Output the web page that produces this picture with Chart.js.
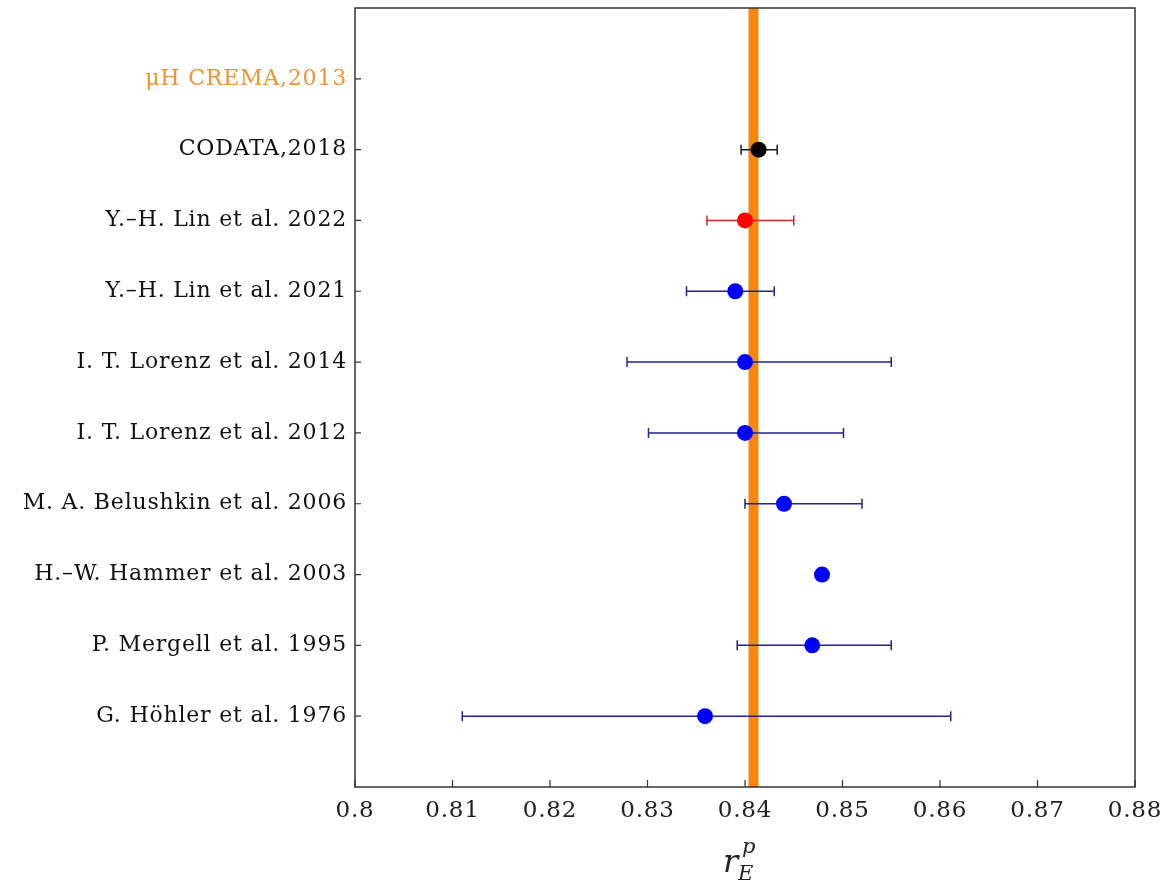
<!DOCTYPE html>
<html>
<head>
<meta charset="utf-8">
<script src="https://cdn.jsdelivr.net/npm/chart.js@4/dist/chart.umd.min.js"></script>
<style>
html,body{margin:0;padding:0;background:#fff;}
#wrap{width:1164px;height:882px;position:relative;}
</style>
</head>
<body>
<div id="wrap"><canvas id="c"></canvas></div>
<script>
// ---- data ----
const rowLabels = ['μH CREMA,2013','CODATA,2018','Y.–H. Lin et al. 2022','Y.–H. Lin et al. 2021','I. T. Lorenz et al. 2014','I. T. Lorenz et al. 2012','M. A. Belushkin et al. 2006','H.–W. Hammer et al. 2003','P. Mergell et al. 1995','G. Höhler et al. 1976'];
const cremaValue = 0.84087;
const centralValues = [0.8414, 0.8400, 0.8390, 0.8400, 0.8400, 0.8440, 0.8479, 0.8469, 0.8359];
const lowValues     = [0.8396, 0.8361, 0.8340, 0.8279, 0.8301, 0.8400, null,   0.8392, 0.8110];
const highValues    = [0.8433, 0.8450, 0.8430, 0.8550, 0.8501, 0.8520, null,   0.8550, 0.8611];
const pointColors   = ['#000000','#ff0000','#0000ff','#0000ff','#0000ff','#0000ff','#0000ff','#0000ff','#0000ff'];
const barColors     = ['#1a1a1a','#c8282a','#23238f','#23238f','#23238f','#23238f','#23238f','#23238f','#23238f'];
const xTicks = [0.80,0.81,0.82,0.83,0.84,0.85,0.86,0.87,0.88];

const nRows = rowLabels.length; // 10
// row i (0 = top) sits at y = nRows - i
const points = centralValues.map((v,i)=>({x:v, y: nRows - (i+1)}));

const SERIF = '"DejaVu Serif", "Liberation Serif", serif';
const ORANGE = '#f7870c';
const AXIS = '#333333';

const decor = {
  id:'decor',
  beforeLayout(chart){ chart.ctx.letterSpacing = '0.8px'; },
  beforeDraw(chart){ chart.ctx.letterSpacing = '0.8px'; },
  beforeDatasetsDraw(chart){
    const ctx = chart.ctx, xs = chart.scales.x, ys = chart.scales.y, a = chart.chartArea;
    ctx.save();
    // CREMA band
    const bx = xs.getPixelForValue(cremaValue);
    ctx.strokeStyle = ORANGE; ctx.lineWidth = 10;
    ctx.beginPath(); ctx.moveTo(bx, a.top); ctx.lineTo(bx, a.bottom); ctx.stroke();
    // error bars
    ctx.lineWidth = 1.5;
    centralValues.forEach((v,i)=>{
      if (lowValues[i]==null) return;
      const py = ys.getPixelForValue(nRows-(i+1));
      const x1 = xs.getPixelForValue(lowValues[i]), x2 = xs.getPixelForValue(highValues[i]);
      ctx.strokeStyle = barColors[i];
      ctx.beginPath();
      ctx.moveTo(x1,py); ctx.lineTo(x2,py);
      ctx.moveTo(x1,py-5); ctx.lineTo(x1,py+5);
      ctx.moveTo(x2,py-5); ctx.lineTo(x2,py+5);
      ctx.stroke();
    });
    ctx.restore();
  },
  afterDraw(chart){
    const ctx = chart.ctx, xs = chart.scales.x, ys = chart.scales.y, a = chart.chartArea;
    ctx.save();
    ctx.letterSpacing = '0px';
    ctx.strokeStyle = AXIS; ctx.lineWidth = 1.5;
    ctx.strokeRect(a.left, a.top, a.right-a.left, a.bottom-a.top);
    ctx.lineWidth = 1.2;
    ctx.beginPath();
    xTicks.forEach(t=>{ const px = xs.getPixelForValue(t); ctx.moveTo(px,a.bottom); ctx.lineTo(px,a.bottom-7); });
    rowLabels.forEach((l,i)=>{ const py = ys.getPixelForValue(nRows-i); ctx.moveTo(a.left,py); ctx.lineTo(a.left+6,py); });
    ctx.stroke();
    // axis title r_E^p
    const cx = xs.getPixelForValue(0.84);
    ctx.fillStyle = '#222';
    ctx.textBaseline = 'alphabetic';
    ctx.textAlign = 'left';
    ctx.font = 'italic 32px ' + SERIF;
    ctx.fillText('r', cx-22, 872);
    ctx.font = 'italic 21px ' + SERIF;
    ctx.fillText('p', cx-3, 853);
    ctx.fillText('E', cx-7, 880);
    ctx.restore();
  }
};

new Chart(document.getElementById('c'), {
  type:'scatter',
  data:{ datasets:[{
    data: points,
    pointRadius: 8, pointHoverRadius: 8,
    pointBackgroundColor: pointColors, pointBorderColor: pointColors, pointBorderWidth: 0,
    showLine:false
  }]},
  options:{
    responsive:true, maintainAspectRatio:false, animation:false,
    events:[],
    layout:{ padding:{ top:5, right:29, left:0, bottom:0 } },
    plugins:{ legend:{display:false}, tooltip:{enabled:false} },
    scales:{
      x:{
        type:'linear', min:0.80, max:0.88,
        afterBuildTicks(s){ s.ticks = xTicks.map(v=>({value:v})); },
        afterFit(s){ s.height = 95; s.paddingLeft = 0; s.paddingRight = 0; },
        grid:{ display:false, drawTicks:false },
        border:{ display:false },
        ticks:{ color:'#222', font:{ family:SERIF, size:23 }, padding:10,
          callback:(v)=>String(parseFloat(Number(v).toFixed(2))) }
      },
      y:{
        type:'linear', min:0, max:nRows+1,
        afterBuildTicks(s){ s.ticks = rowLabels.map((l,i)=>({value:nRows-i})); },
        afterFit(s){ s.width = 355; s.paddingTop = 0; s.paddingBottom = 0; },
        grid:{ display:false, drawTicks:false },
        border:{ display:false },
        ticks:{ font:{ family:SERIF, size:22 }, padding:8,
          color:(c)=> (c.tick && c.tick.value===nRows) ? '#ef9433' : '#111',
          callback:(v)=> { const i = nRows - v; return rowLabels[i] || ''; } }
      }
    }
  },
  plugins:[decor]
});
</script>
</body>
</html>
